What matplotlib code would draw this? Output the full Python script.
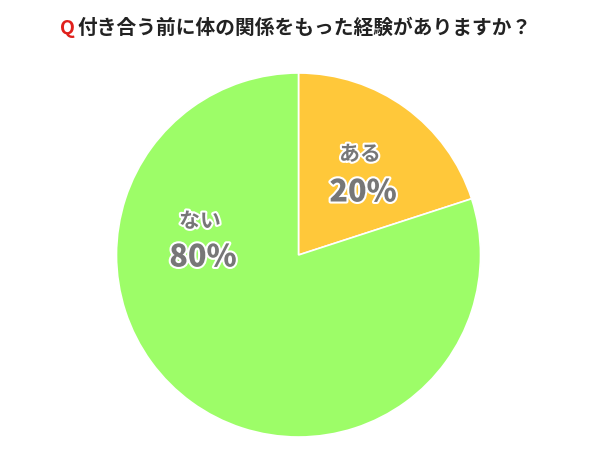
import matplotlib
matplotlib.use("Agg")
import matplotlib.pyplot as plt
import matplotlib.patheffects as pe

plt.rcParams['font.family'] = ['Noto Sans CJK JP', 'DejaVu Sans']

# データ
labels = ['ある', 'ない']
values = [20, 80]
colors = ['#ffc83a', '#9dfd68']
title_q = 'Q'
title_text = '付き合う前に体の関係をもった経験がありますか？'

fig = plt.figure(figsize=(6.15, 4.62), dpi=100)
ax = fig.add_axes([0, 0, 1, 1])

cx, cy, r = 298.5, 462 - 255, 182
wedges, _ = ax.pie(values, colors=colors, startangle=90, counterclock=False,
                   center=(cx, cy), radius=r, frame=True,
                   wedgeprops=dict(edgecolor='white', linewidth=1.2))
ax.set_xlim(0, 615)
ax.set_ylim(0, 462)
ax.set_aspect('equal')
ax.axis('off')

# ラベル
glow = [pe.withStroke(linewidth=3, foreground='white')]
label_pos = [(360, 462 - 154, 363, 462 - 192), (200, 462 - 221, 203, 462 - 257)]
for lab, v, (lx, ly, px, py) in zip(labels, values, label_pos):
    ax.text(lx, ly, lab, ha='center', va='center', fontsize=15, fontweight='bold',
            color='#777777', path_effects=glow)
    ax.text(px, py, f'{v}%', ha='center', va='center', fontsize=22, fontweight='black',
            color='#777777', path_effects=glow)

# タイトル
fig.text(60 / 615, 1 - 28 / 462, title_q, ha='left', va='center', fontsize=14,
         fontweight='bold', color='#e0201b')
fig.text(78 / 615, 1 - 28 / 462, title_text, ha='left', va='center', fontsize=14.2,
         fontweight='bold', color='#222222')

fig.savefig('out.png', dpi=100)
